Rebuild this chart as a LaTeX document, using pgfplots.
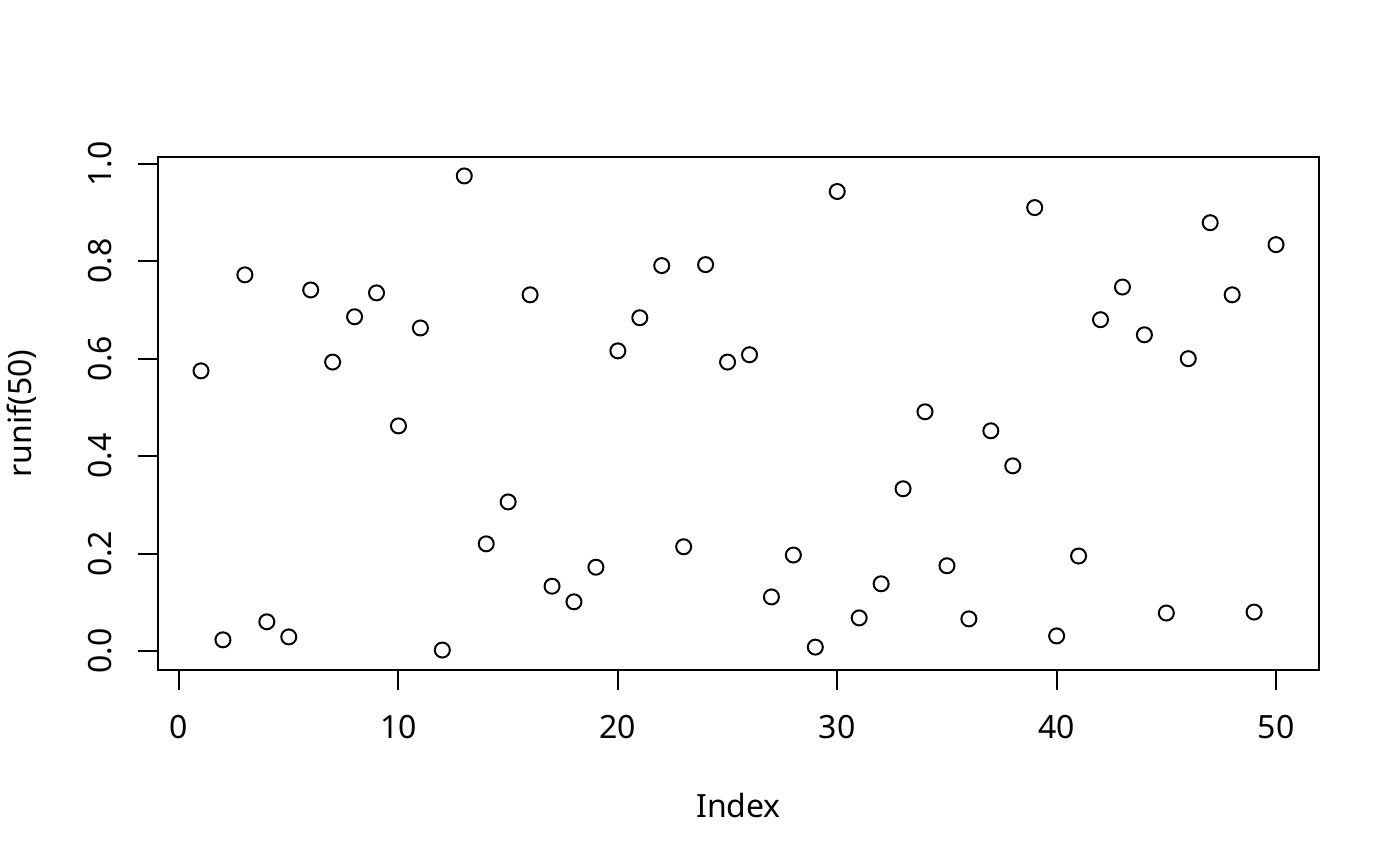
\documentclass[border=0pt]{standalone}
\usepackage{pgfplots}
\pgfplotsset{compat=1.18}
\usepackage{fontspec}
\setmainfont{Noto Sans}
\begin{document}
\begin{tikzpicture}[x=1bp,y=1bp]
\useasboundingbox (0,0) rectangle (700,433);
\begin{axis}[
  at={(79bp,98bp)}, anchor=south west,
  scale only axis, width=580.5bp, height=256.5bp,
  xmin=-0.96, xmax=51.96, ymin=-0.0389, ymax=1.0139,
  axis line style={line width=1bp},
  tick align=outside, major tick length=10bp,
  tick style={line width=1bp, black},
  xtick={0,10,20,30,40,50}, ytick={0,0.2,0.4,0.6,0.8,1.0},
  xtick pos=bottom, ytick pos=left,
  /pgf/number format/assume math mode=true,
  yticklabel style={/pgf/number format/fixed, /pgf/number format/fixed zerofill, /pgf/number format/precision=1, rotate=90, anchor=center, yshift=19bp, font=\fontsize{16bp}{18bp}\selectfont},
  xticklabel style={anchor=center, yshift=-18.5bp, font=\fontsize{16bp}{18bp}\selectfont},
  scaled y ticks=false,
  xlabel={Index}, ylabel={runif(50)},
  xlabel style={at={(axis description cs:0.5,-0.2632)}, anchor=center, font=\fontsize{16bp}{18bp}\selectfont},
  ylabel style={at={(axis description cs:-0.1171,0.5)}, anchor=center, font=\fontsize{16bp}{18bp}\selectfont},
  clip=false,
]
\addplot[only marks, mark=o, mark size=3.75bp, mark options={line width=1bp, black}] coordinates {
(1,0.575) (2,0.023) (3,0.772) (4,0.060) (5,0.029) (6,0.741) (7,0.593) (8,0.686) (9,0.735) (10,0.462)
(11,0.663) (12,0.002) (13,0.975) (14,0.220) (15,0.306) (16,0.731) (17,0.133) (18,0.101) (19,0.172) (20,0.616)
(21,0.684) (22,0.791) (23,0.214) (24,0.793) (25,0.593) (26,0.608) (27,0.111) (28,0.197) (29,0.008) (30,0.943)
(31,0.068) (32,0.138) (33,0.333) (34,0.491) (35,0.175) (36,0.066) (37,0.452) (38,0.380) (39,0.910) (40,0.031)
(41,0.195) (42,0.680) (43,0.747) (44,0.649) (45,0.078) (46,0.600) (47,0.879) (48,0.731) (49,0.080) (50,0.834)
};
\end{axis}
\end{tikzpicture}
\end{document}
